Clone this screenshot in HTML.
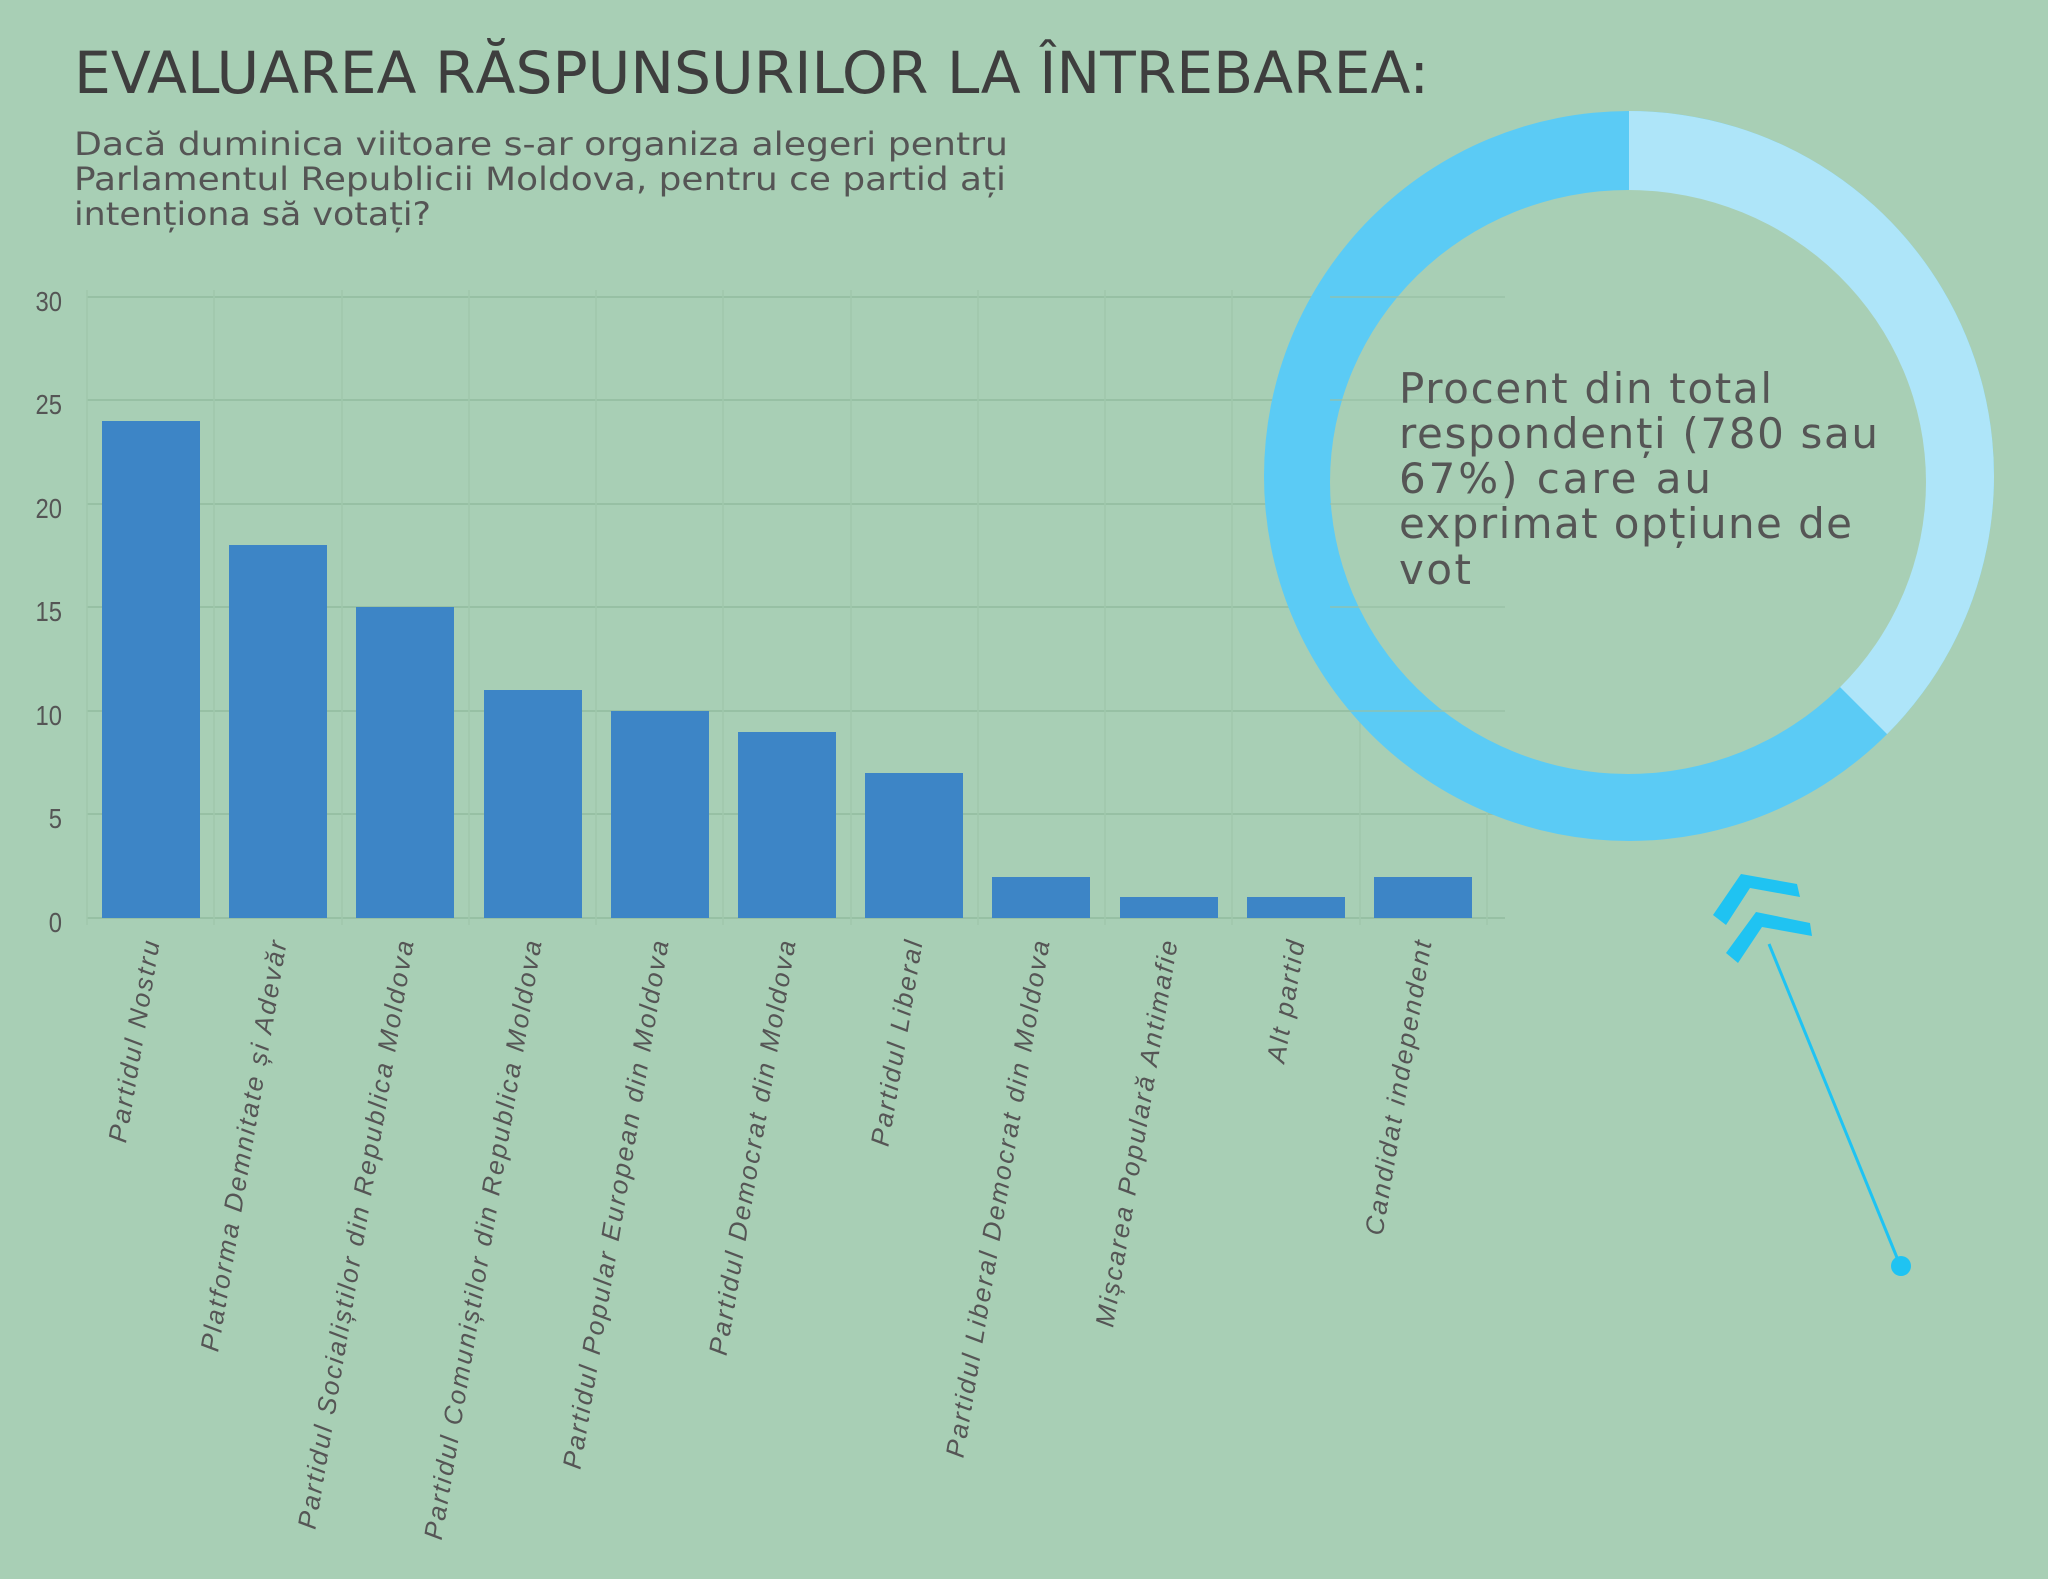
<!DOCTYPE html>
<html><head><meta charset="utf-8"><style>
html,body{margin:0;padding:0;background:#a8cfb5;}
svg{display:block}
</style></head><body>
<svg width="2048" height="1579" viewBox="0 0 2048 1579" xmlns="http://www.w3.org/2000/svg">
<rect width="2048" height="1579" fill="#a8cfb5"/>
<!-- grid -->
<g stroke="#97c0a4" stroke-width="2">
<line x1="87" y1="297" x2="1505" y2="297"/>
<line x1="87" y1="400" x2="1505" y2="400"/>
<line x1="87" y1="504" x2="1505" y2="504"/>
<line x1="87" y1="607" x2="1505" y2="607"/>
<line x1="87" y1="711" x2="1505" y2="711"/>
<line x1="87" y1="814" x2="1505" y2="814"/>
<line x1="87" y1="918" x2="1505" y2="918"/>
</g>
<g stroke="#9fc7ac" stroke-width="1.5">
<line x1="87" y1="290" x2="87" y2="925"/><line x1="214" y1="290" x2="214" y2="925"/><line x1="342" y1="290" x2="342" y2="925"/><line x1="469" y1="290" x2="469" y2="925"/><line x1="596" y1="290" x2="596" y2="925"/><line x1="723" y1="290" x2="723" y2="925"/><line x1="851" y1="290" x2="851" y2="925"/><line x1="978" y1="290" x2="978" y2="925"/><line x1="1105" y1="290" x2="1105" y2="925"/><line x1="1232" y1="290" x2="1232" y2="925"/><line x1="1360" y1="290" x2="1360" y2="925"/><line x1="1487" y1="290" x2="1487" y2="925"/>
</g>
<!-- y labels -->
<g font-family="Liberation Sans, sans-serif" font-size="28" fill="#555" text-anchor="end">
<text x="62" y="311" transform="translate(62 0) scale(0.85 1) translate(-62 0)">30</text>
<text x="62" y="414" transform="translate(62 0) scale(0.85 1) translate(-62 0)">25</text>
<text x="62" y="518" transform="translate(62 0) scale(0.85 1) translate(-62 0)">20</text>
<text x="62" y="621" transform="translate(62 0) scale(0.85 1) translate(-62 0)">15</text>
<text x="62" y="725" transform="translate(62 0) scale(0.85 1) translate(-62 0)">10</text>
<text x="62" y="828" transform="translate(62 0) scale(0.85 1) translate(-62 0)">5</text>
<text x="62" y="932" transform="translate(62 0) scale(0.85 1) translate(-62 0)">0</text>
</g>
<!-- bars -->
<g fill="#3d85c6">
<rect x="102" y="421" width="98" height="497"/>
<rect x="229" y="545" width="98" height="373"/>
<rect x="356" y="607" width="98" height="311"/>
<rect x="484" y="690" width="98" height="228"/>
<rect x="611" y="711" width="98" height="207"/>
<rect x="738" y="732" width="98" height="186"/>
<rect x="865" y="773" width="98" height="145"/>
<rect x="992" y="877" width="98" height="41"/>
<rect x="1120" y="897" width="98" height="21"/>
<rect x="1247" y="897" width="98" height="21"/>
<rect x="1374" y="877" width="98" height="41"/>
</g>
<!-- x labels -->
<g font-family="Liberation Sans, sans-serif" font-size="26" font-style="italic" fill="#555" text-anchor="end" letter-spacing="2.3">
<text transform="translate(160 940) rotate(-80.5)">Partidul Nostru</text>
<text transform="translate(287 940) rotate(-80.5)">Platforma Demnitate și Adevăr</text>
<text transform="translate(414 940) rotate(-80.5)">Partidul Socialiștilor din Republica Moldova</text>
<text transform="translate(542 940) rotate(-80.5)">Partidul Comuniștilor din Republica Moldova</text>
<text transform="translate(669 940) rotate(-80.5)">Partidul Popular European din Moldova</text>
<text transform="translate(796 940) rotate(-80.5)">Partidul Democrat din Moldova</text>
<text transform="translate(923 940) rotate(-80.5)">Partidul Liberal</text>
<text transform="translate(1050 940) rotate(-80.5)">Partidul Liberal Democrat din Moldova</text>
<text transform="translate(1178 940) rotate(-80.5)">Mișcarea Populară Antimafie</text>
<text transform="translate(1305 940) rotate(-80.5)">Alt partid</text>
<text transform="translate(1432 940) rotate(-80.5)">Candidat independent</text>
</g>
<!-- title -->
<text x="74" y="93" font-family="DejaVu Sans, sans-serif" font-size="58" fill="#3e3e3e" textLength="1355" lengthAdjust="spacingAndGlyphs">EVALUAREA RĂSPUNSURILOR LA ÎNTREBAREA:</text>
<g font-family="DejaVu Sans, sans-serif" font-size="32" fill="#555">
<text x="74" y="155" textLength="934" lengthAdjust="spacingAndGlyphs">Dacă duminica viitoare s-ar organiza alegeri pentru</text>
<text x="74" y="190" textLength="932" lengthAdjust="spacingAndGlyphs">Parlamentul Republicii Moldova, pentru ce partid ați</text>
<text x="74" y="225" textLength="357" lengthAdjust="spacingAndGlyphs">intenționa să votați?</text>
</g>
<!-- donut -->
<circle cx="1629" cy="476" r="365" fill="#5bcbf5"/>
<path d="M1629 476 L1629 111 A365 365 0 0 1 1887.1 734.1 Z" fill="#aee5f9"/>
<ellipse cx="1628" cy="482" rx="298" ry="292" fill="#a8cfb5"/>
<g stroke="#97c0a4" stroke-width="2" opacity="0.6">
<line x1="1330" y1="297" x2="1505" y2="297"/>
<line x1="1330" y1="400" x2="1505" y2="400"/>
<line x1="1330" y1="504" x2="1505" y2="504"/>
<line x1="1330" y1="607" x2="1505" y2="607"/>
<line x1="1330" y1="711" x2="1505" y2="711"/>
</g>
<g font-family="DejaVu Sans, sans-serif" font-size="42" fill="#555">
<text x="1399" y="403" textLength="373" lengthAdjust="spacing">Procent din total</text>
<text x="1399" y="448" textLength="479" lengthAdjust="spacing">respondenți (780 sau</text>
<text x="1399" y="493" textLength="312" lengthAdjust="spacing">67%) care au</text>
<text x="1399" y="538" textLength="453" lengthAdjust="spacing">exprimat opțiune de</text>
<text x="1399" y="584" textLength="72" lengthAdjust="spacing">vot</text>
</g>
<!-- arrow -->
<g fill="#1fc3f2">
<polygon points="1713,915 1741,874 1797,884 1800,897 1750,888 1726,925"/>
<polygon points="1726,953 1756,912 1810,923 1812,936 1762,927 1738,963"/>
</g>
<line x1="1769" y1="944" x2="1900" y2="1265" stroke="#1fc3f2" stroke-width="3"/>
<circle cx="1901" cy="1266" r="10" fill="#1fc3f2"/>
</svg>
</body></html>
